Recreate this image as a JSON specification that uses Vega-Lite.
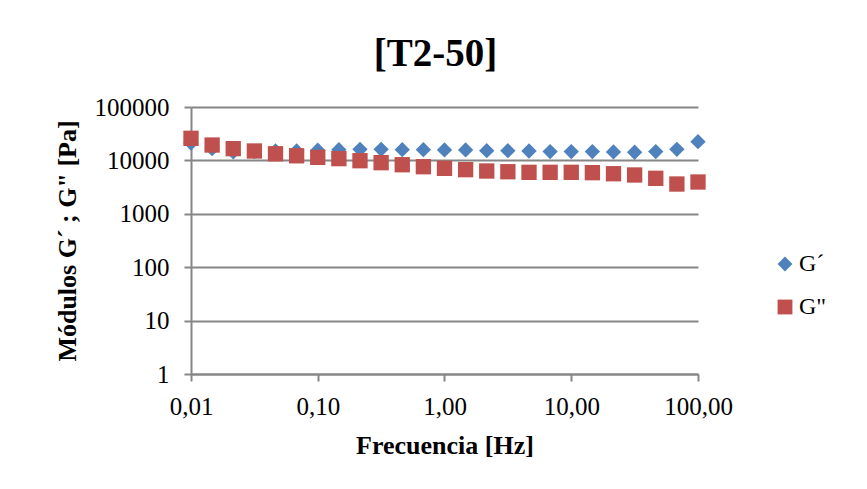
{
  "$schema": "https://vega.github.io/schema/vega-lite/v6.json",
  "autosize": {"type": "none"},
  "width": 507,
  "height": 267,
  "padding": {"left": 191, "top": 107, "right": 169, "bottom": 115},
  "background": "white",
  "title": {
    "text": "[T2-50]",
    "font": "Liberation Serif",
    "fontSize": 39,
    "fontWeight": "bold",
    "color": "black",
    "anchor": "middle",
    "dx": -9,
    "offset": 21
  },
  "data": {
    "values": [
      {"f": 0.01, "serie": "G´", "v": 21200},
      {"f": 0.01468, "serie": "G´", "v": 16600},
      {"f": 0.02154, "serie": "G´", "v": 14400},
      {"f": 0.03162, "serie": "G´", "v": 14700},
      {"f": 0.04642, "serie": "G´", "v": 15000},
      {"f": 0.06813, "serie": "G´", "v": 15000},
      {"f": 0.1, "serie": "G´", "v": 15500},
      {"f": 0.1468, "serie": "G´", "v": 15900},
      {"f": 0.2154, "serie": "G´", "v": 16100},
      {"f": 0.3162, "serie": "G´", "v": 16100},
      {"f": 0.4642, "serie": "G´", "v": 15900},
      {"f": 0.6813, "serie": "G´", "v": 15900},
      {"f": 1, "serie": "G´", "v": 15700},
      {"f": 1.468, "serie": "G´", "v": 15700},
      {"f": 2.154, "serie": "G´", "v": 15200},
      {"f": 3.162, "serie": "G´", "v": 15200},
      {"f": 4.642, "serie": "G´", "v": 15000},
      {"f": 6.813, "serie": "G´", "v": 14600},
      {"f": 10, "serie": "G´", "v": 14600},
      {"f": 14.68, "serie": "G´", "v": 14600},
      {"f": 21.54, "serie": "G´", "v": 14400},
      {"f": 31.62, "serie": "G´", "v": 14200},
      {"f": 46.42, "serie": "G´", "v": 14600},
      {"f": 68.13, "serie": "G´", "v": 16100},
      {"f": 100, "serie": "G´", "v": 22400},
      {"f": 0.01, "serie": "G\"", "v": 25900},
      {"f": 0.01468, "serie": "G\"", "v": 19400},
      {"f": 0.02154, "serie": "G\"", "v": 16600},
      {"f": 0.03162, "serie": "G\"", "v": 15000},
      {"f": 0.04642, "serie": "G\"", "v": 13300},
      {"f": 0.06813, "serie": "G\"", "v": 12200},
      {"f": 0.1, "serie": "G\"", "v": 11400},
      {"f": 0.1468, "serie": "G\"", "v": 10800},
      {"f": 0.2154, "serie": "G\"", "v": 9870},
      {"f": 0.3162, "serie": "G\"", "v": 9060},
      {"f": 0.4642, "serie": "G\"", "v": 8300},
      {"f": 0.6813, "serie": "G\"", "v": 7620},
      {"f": 1, "serie": "G\"", "v": 7110},
      {"f": 1.468, "serie": "G\"", "v": 6700},
      {"f": 2.154, "serie": "G\"", "v": 6330},
      {"f": 3.162, "serie": "G\"", "v": 6140},
      {"f": 4.642, "serie": "G\"", "v": 5980},
      {"f": 6.813, "serie": "G\"", "v": 5980},
      {"f": 10, "serie": "G\"", "v": 5980},
      {"f": 14.68, "serie": "G\"", "v": 5890},
      {"f": 21.54, "serie": "G\"", "v": 5630},
      {"f": 31.62, "serie": "G\"", "v": 5330},
      {"f": 46.42, "serie": "G\"", "v": 4620},
      {"f": 68.13, "serie": "G\"", "v": 3610},
      {"f": 100, "serie": "G\"", "v": 3940}
    ]
  },
  "mark": {"type": "point", "filled": true, "opacity": 1, "size": 235},
  "encoding": {
    "x": {
      "field": "f",
      "type": "quantitative",
      "scale": {"type": "log", "domain": [0.01, 100], "nice": false},
      "axis": {
        "title": "Frecuencia [Hz]",
        "values": [0.01, 0.1, 1, 10, 100],
        "labelExpr": "replace(format(datum.value, '.2f'), '.', ',')",
        "labelFont": "Liberation Serif",
        "labelFontSize": 25,
        "labelFlush": false,
        "labelOverlap": false,
        "grid": false,
        "tickSize": 7,
        "labelPadding": 13,
        "titlePadding": 13
      }
    },
    "y": {
      "field": "v",
      "type": "quantitative",
      "scale": {"type": "log", "domain": [1, 100000], "nice": false},
      "axis": {
        "title": "Módulos G´ ; G\" [Pa]",
        "values": [1, 10, 100, 1000, 10000, 100000],
        "format": "d",
        "labelFont": "Liberation Serif",
        "labelFontSize": 25,
        "labelFlush": false,
        "labelOverlap": false,
        "grid": true,
        "tickSize": 7,
        "labelPadding": 15,
        "titlePadding": 14
      }
    },
    "color": {
      "field": "serie",
      "type": "nominal",
      "sort": null,
      "scale": {"domain": ["G´", "G\""], "range": ["#4F81BD", "#C0504D"]},
      "legend": {"title": null, "labelFont": "Liberation Serif", "labelFontSize": 24}
    },
    "shape": {
      "field": "serie",
      "type": "nominal",
      "sort": null,
      "scale": {"domain": ["G´", "G\""], "range": ["diamond", "square"]},
      "legend": {"title": null, "labelFont": "Liberation Serif", "labelFontSize": 24}
    }
  },
  "config": {
    "font": "Liberation Serif",
    "view": {"stroke": null},
    "axis": {
      "labelFont": "Liberation Serif",
      "labelFontSize": 25,
      "labelColor": "black",
      "titleFont": "Liberation Serif",
      "titleFontSize": 26,
      "titleFontWeight": "bold",
      "titleColor": "black",
      "domainColor": "#868686",
      "domainWidth": 2,
      "tickColor": "#868686",
      "tickWidth": 2,
      "gridColor": "#868686",
      "gridWidth": 2,
      "gridOpacity": 1
    },
    "legend": {
      "orient": "none",
      "legendX": 582,
      "legendY": 145,
      "labelFont": "Liberation Serif",
      "labelFontSize": 24,
      "labelColor": "black",
      "symbolSize": 220,
      "symbolStrokeWidth": 0,
      "rowPadding": 19,
      "labelOffset": 2,
      "padding": 0
    }
  }
}
